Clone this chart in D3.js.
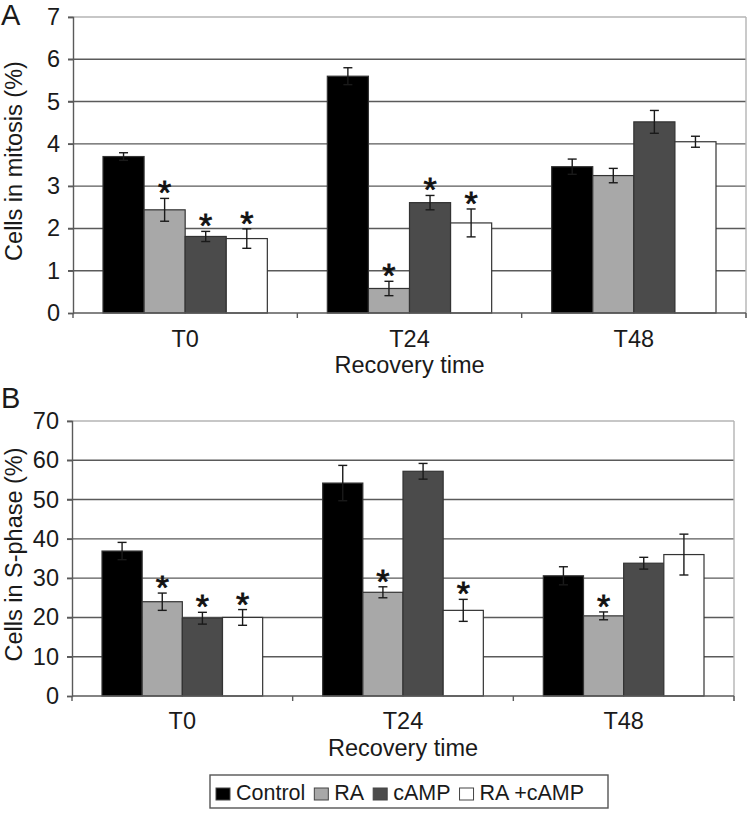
<!DOCTYPE html>
<html>
<head>
<meta charset="utf-8">
<script src="https://cdn.jsdelivr.net/npm/d3@7"></script>
<style>
  html, body { margin: 0; padding: 0; background: #ffffff; }
  svg { display: block; font-family: "Liberation Sans", Arial, sans-serif; }
</style>
</head>
<body>
<svg id="chart" width="751" height="813"></svg>
<script>
// ---------------- data ----------------
const categories = ["T0", "T24", "T48"];
const seriesNames = ["Control", "RA", "cAMP", "RA +cAMP"];
const seriesColors = ["#000000", "#a8a8a8", "#4b4b4b", "#ffffff"];

// Panel A: cells in mitosis (%)
const mitosisControl = [3.70, 5.60, 3.46];
const mitosisRA = [2.44, 0.58, 3.25];
const mitosisCAMP = [1.81, 2.61, 4.52];
const mitosisRAcAMP = [1.76, 2.13, 4.05];
const mitosisErrControl = [0.09, 0.20, 0.18];
const mitosisErrRA = [0.27, 0.17, 0.17];
const mitosisErrCAMP = [0.12, 0.17, 0.27];
const mitosisErrRAcAMP = [0.23, 0.33, 0.13];
const mitosisSigControl = [false, false, false];
const mitosisSigRA = [true, true, false];
const mitosisSigCAMP = [true, true, false];
const mitosisSigRAcAMP = [true, true, false];
const mitosisTicks = [0, 1, 2, 3, 4, 5, 6, 7];

// Panel B: cells in S-phase (%)
const sphaseControl = [36.9, 54.2, 30.6];
const sphaseRA = [24.0, 26.4, 20.4];
const sphaseCAMP = [19.8, 57.2, 33.8];
const sphaseRAcAMP = [20.0, 21.8, 36.0];
const sphaseErrControl = [2.2, 4.5, 2.3];
const sphaseErrRA = [2.2, 1.4, 1.0];
const sphaseErrCAMP = [1.5, 2.0, 1.5];
const sphaseErrRAcAMP = [2.0, 2.8, 5.2];
const sphaseSigControl = [false, false, false];
const sphaseSigRA = [true, true, true];
const sphaseSigCAMP = [true, false, false];
const sphaseSigRAcAMP = [true, true, false];
const sphaseTicks = [0, 10, 20, 30, 40, 50, 60, 70];

// ---------------- drawing ----------------
const svg = d3.select("#chart");
const FONT = 23.5;
const TEXT = "#1a1a1a";

function drawPanel(o) {
  const g = svg.append("g");
  const x = d3.scaleBand().domain(categories).range([o.left, o.right]).paddingInner(0).paddingOuter(0);
  const bw = x.bandwidth();
  const xs = d3.scaleBand().domain(seriesNames).range([o.pad, bw - o.pad]).padding(0);
  const y = d3.scaleLinear().domain([0, o.ticks[o.ticks.length - 1]]).range([o.bottom, o.top]);

  // gridlines
  g.selectAll("line.grid").data(o.ticks.filter(t => t > 0)).join("line")
    .attr("x1", o.left - 5).attr("x2", o.right)
    .attr("y1", d => y(d)).attr("y2", d => y(d))
    .attr("stroke", (d, i, arr) => i === arr.length - 1 ? "#b4b4b4" : "#5a5a5a")
    .attr("stroke-width", 1.4);
  // right border
  g.append("line").attr("x1", o.right).attr("x2", o.right)
    .attr("y1", y(o.ticks[o.ticks.length - 1])).attr("y2", o.bottom + 5)
    .attr("stroke", "#b4b4b4").attr("stroke-width", 1.4);

  // y axis
  const yAxis = d3.axisLeft(y).tickValues(o.ticks).tickFormat(d3.format("d")).tickSize(5).tickPadding(8);
  const ya = g.append("g").attr("transform", `translate(${o.left},0)`).call(yAxis);
  ya.attr("font-size", FONT).attr("font-family", "Liberation Sans, Arial, sans-serif");
  ya.select(".domain").attr("stroke", "#5a5a5a").attr("stroke-width", 1.4);
  ya.selectAll(".tick line").attr("stroke", "#5a5a5a").attr("stroke-width", 1.4);
  ya.selectAll(".tick text").attr("font-size", FONT).attr("fill", TEXT);

  // bars
  const seriesData = o.series.map((s, si) => ({ name: seriesNames[si], color: seriesColors[si], vals: s.v, errs: s.e, sig: s.s }));
  const flat = [];
  seriesData.forEach(s => categories.forEach((c, ci) => flat.push({ cat: c, name: s.name, color: s.color, v: s.vals[ci], e: s.errs[ci], sig: s.sig[ci] })));

  g.selectAll("rect.bar").data(flat).join("rect")
    .attr("x", d => x(d.cat) + xs(d.name))
    .attr("width", xs.bandwidth())
    .attr("y", d => y(d.v))
    .attr("height", d => o.bottom - y(d.v))
    .attr("fill", d => d.color)
    .attr("stroke", "#333333").attr("stroke-width", 1.2);

  // x axis line and category ticks
  g.append("line").attr("x1", o.left).attr("x2", o.right)
    .attr("y1", o.bottom).attr("y2", o.bottom)
    .attr("stroke", "#5a5a5a").attr("stroke-width", 1.4);
  const bounds = categories.map(c => x(c)).concat([o.right]);
  g.selectAll("line.xtick").data(bounds).join("line")
    .attr("x1", d => d).attr("x2", d => d)
    .attr("y1", o.bottom).attr("y2", o.bottom + 5)
    .attr("stroke", "#5a5a5a").attr("stroke-width", 1.4);
  g.selectAll("text.cat").data(categories).join("text")
    .attr("x", d => x(d) + bw / 2).attr("y", o.catBaseline)
    .attr("text-anchor", "middle").attr("font-size", FONT).attr("fill", TEXT)
    .text(d => d);

  // error bars
  const eb = g.selectAll("g.err").data(flat).join("g")
    .attr("stroke", "#1a1a1a").attr("stroke-width", 1.4);
  eb.append("line")
    .attr("x1", d => x(d.cat) + xs(d.name) + xs.bandwidth() / 2)
    .attr("x2", d => x(d.cat) + xs(d.name) + xs.bandwidth() / 2)
    .attr("y1", d => y(d.v - d.e)).attr("y2", d => y(d.v + d.e));
  [1, -1].forEach(sgn => {
    eb.append("line")
      .attr("x1", d => x(d.cat) + xs(d.name) + xs.bandwidth() / 2 - 4.5)
      .attr("x2", d => x(d.cat) + xs(d.name) + xs.bandwidth() / 2 + 4.5)
      .attr("y1", d => y(d.v + sgn * d.e)).attr("y2", d => y(d.v + sgn * d.e));
  });

  // significance asterisks
  g.selectAll("text.star").data(flat.filter(d => d.sig)).join("text")
    .attr("x", d => x(d.cat) + xs(d.name) + xs.bandwidth() / 2)
    .attr("y", d => y(d.v + d.e) + 6)
    .attr("text-anchor", "middle").attr("font-size", 34).attr("fill", "#111")
    .attr("stroke", "#111").attr("stroke-width", 0.8)
    .text("*");

  // axis titles
  g.append("text").attr("x", (o.left + o.right) / 2).attr("y", o.titleBaseline)
    .attr("text-anchor", "middle").attr("font-size", FONT).attr("fill", TEXT)
    .text("Recovery time");
  g.append("text")
    .attr("transform", `translate(22,${(o.top + o.bottom) / 2 - 4}) rotate(-90)`)
    .attr("text-anchor", "middle").attr("font-size", FONT).attr("fill", TEXT)
    .text(o.yTitle);
  // panel letter
  g.append("text").attr("x", 1).attr("y", o.letterY)
    .attr("font-size", 29).attr("fill", TEXT).text(o.letter);
}

drawPanel({
  left: 73, right: 746, top: 17, bottom: 313, pad: 30,
  ticks: mitosisTicks, yTitle: "Cells in mitosis (%)", letter: "A", letterY: 25,
  catBaseline: 347, titleBaseline: 373,
  series: [
    { v: mitosisControl, e: mitosisErrControl, s: mitosisSigControl },
    { v: mitosisRA, e: mitosisErrRA, s: mitosisSigRA },
    { v: mitosisCAMP, e: mitosisErrCAMP, s: mitosisSigCAMP },
    { v: mitosisRAcAMP, e: mitosisErrRAcAMP, s: mitosisSigRAcAMP }
  ]
});

drawPanel({
  left: 72, right: 734, top: 421, bottom: 696, pad: 30,
  ticks: sphaseTicks, yTitle: "Cells in S-phase (%)", letter: "B", letterY: 408,
  catBaseline: 729, titleBaseline: 756,
  series: [
    { v: sphaseControl, e: sphaseErrControl, s: sphaseSigControl },
    { v: sphaseRA, e: sphaseErrRA, s: sphaseSigRA },
    { v: sphaseCAMP, e: sphaseErrCAMP, s: sphaseSigCAMP },
    { v: sphaseRAcAMP, e: sphaseErrRAcAMP, s: sphaseSigRAcAMP }
  ]
});

// legend
const lg = svg.append("g");
lg.append("rect").attr("x", 210).attr("y", 775).attr("width", 398).attr("height", 33)
  .attr("fill", "#fff").attr("stroke", "#555").attr("stroke-width", 1.4);
let cx = 216;
const legendBase = 800;
seriesNames.forEach((name, i) => {
  lg.append("rect").attr("x", cx).attr("y", legendBase - 12).attr("width", 14).attr("height", 12)
    .attr("fill", seriesColors[i]).attr("stroke", "#444").attr("stroke-width", 1);
  const t = lg.append("text").attr("x", cx + 20).attr("y", legendBase)
    .attr("font-size", 21.5).attr("fill", TEXT).text(name);
  cx += 20 + t.node().getComputedTextLength() + 9;
});
</script>
</body>
</html>
